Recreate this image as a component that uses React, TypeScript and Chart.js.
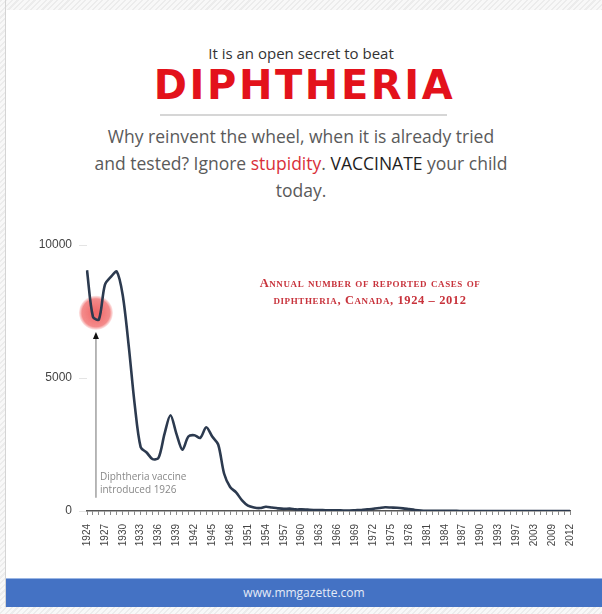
import React, { useEffect, useRef } from 'react';
import { Chart, registerables } from 'chart.js';

Chart.register(...registerables);

const years = [
  '1924', '1925', '1926', '1927', '1928', '1929', '1930', '1931', '1932', '1933',
  '1934', '1935', '1936', '1937', '1938', '1939', '1940', '1941', '1942', '1943',
  '1944', '1945', '1946', '1947', '1948', '1949', '1950', '1951', '1952', '1953',
  '1954', '1955', '1956', '1957', '1958', '1959', '1960', '1961', '1962', '1963',
  '1964', '1965', '1966', '1967', '1968', '1969', '1970', '1971', '1972', '1973',
  '1974', '1975', '1976', '1977', '1978', '1979', '1980', '1981', '1982', '1983',
  '1984', '1985', '1986', '1987', '1988', '1989', '1990', '1991', '1992', '1993',
  '1995', '1996', '1997', '1999', '2001', '2003', '2005', '2007', '2009', '2010',
  '2011', '2012',
];

const cases = [
  9050, 7300, 7200, 8500, 8800, 9000, 8100, 6200, 4000, 2400,
  2200, 1950, 2000, 2900, 3600, 2900, 2300, 2800, 2850, 2750,
  3150, 2800, 2500, 1400, 900, 700, 400, 200, 130, 110,
  160, 130, 100, 80, 90, 60, 60, 50, 40, 40,
  30, 30, 30, 20, 20, 30, 40, 60, 80, 110,
  140, 130, 120, 100, 70, 40, 20, 10, 5, 5,
  4, 3, 3, 2, 2, 2, 2, 1, 1, 1,
  1, 1, 1, 1, 1, 1, 1, 1, 1, 1,
  1, 1,
];

const yTickValues = [0, 5000, 10000];
const labelEvery = 3;

// annotation: vaccine introduced 1926 (between category indexes 1 and 2)
const vaccineMarkerIndex = 1.5;
const vaccineMarkerValue = 7450;
const vaccineArrowTipValue = 6650;
const vaccineLineBottomValue = 500;
const vaccineTextLines = ['Diphtheria vaccine', 'introduced 1926'];
const vaccineTextValues = [1280, 790];

const annotationPlugin = {
  id: 'vaccineAnnotation',
  beforeDatasetsDraw(chart: any) {
    const { ctx, scales } = chart;
    const x = scales.x.getPixelForValue(vaccineMarkerIndex);
    const y = scales.y.getPixelForValue(vaccineMarkerValue);
    ctx.save();
    const g = ctx.createRadialGradient(x, y, 2, x, y, 17);
    g.addColorStop(0, 'rgba(238,80,80,0.85)');
    g.addColorStop(0.8, 'rgba(240,100,100,0.75)');
    g.addColorStop(1, 'rgba(245,140,140,0.2)');
    ctx.fillStyle = g;
    ctx.beginPath();
    ctx.arc(x, y, 17, 0, Math.PI * 2);
    ctx.fill();
    ctx.restore();
  },
  afterDatasetsDraw(chart: any) {
    const { ctx, scales } = chart;
    const x = scales.x.getPixelForValue(vaccineMarkerIndex);
    const tip = scales.y.getPixelForValue(vaccineArrowTipValue);
    const bottom = scales.y.getPixelForValue(vaccineLineBottomValue);
    ctx.save();
    ctx.strokeStyle = '#a0a0a0';
    ctx.lineWidth = 1.5;
    ctx.beginPath();
    ctx.moveTo(x, tip + 4);
    ctx.lineTo(x, bottom);
    ctx.stroke();
    ctx.fillStyle = '#111';
    ctx.beginPath();
    ctx.moveTo(x, tip - 2);
    ctx.lineTo(x - 3, tip + 5);
    ctx.lineTo(x + 3, tip + 5);
    ctx.closePath();
    ctx.fill();
    ctx.fillStyle = '#888';
    ctx.font = '10px "Open Sans", sans-serif';
    ctx.textAlign = 'left';
    ctx.textBaseline = 'middle';
    vaccineTextLines.forEach((t, i) => {
      ctx.fillText(t, x + 4, scales.y.getPixelForValue(vaccineTextValues[i]));
    });
    ctx.restore();
  },
};

function DiphtheriaChart() {
  const ref = useRef<HTMLCanvasElement | null>(null);
  useEffect(() => {
    if (!ref.current) return;
    const chart = new Chart(ref.current, {
      type: 'line',
      data: {
        labels: years,
        datasets: [
          {
            data: cases,
            borderColor: '#2c3a4f',
            borderWidth: 2.6,
            pointRadius: 0,
            tension: 0.3,
            fill: false,
          },
        ],
      },
      options: {
        animation: false,
        responsive: false,
        events: [],
        layout: { padding: { top: 20, right: 32, bottom: 0, left: 0 } },
        plugins: { legend: { display: false }, tooltip: { enabled: false }, title: { display: false } },
        scales: {
          x: {
            type: 'category',
            offset: false,
            grid: { display: true, drawOnChartArea: false, drawTicks: true, tickLength: 4, color: '#8a8a8a', lineWidth: 1 },
            border: { display: true, color: '#555', width: 1.5 },
            ticks: {
              autoSkip: false,
              maxRotation: 90,
              minRotation: 90,
              padding: 9,
              color: '#444',
              font: { family: '"Liberation Sans", Arial, sans-serif', size: 10 },
              callback: (_v: any, i: number) => (i % labelEvery === 0 ? years[i] : ''),
            },
            afterFit: (s: any) => {
              s.height = 49;
            },
          },
          y: {
            min: 0,
            max: 10000,
            afterBuildTicks: (s: any) => {
              s.ticks = yTickValues.map((v) => ({ value: v }));
            },
            grid: { display: true, drawOnChartArea: false, drawTicks: true, tickLength: 8, color: '#e4e4e4' },
            border: { display: false },
            ticks: {
              padding: 7,
              color: '#444',
              font: { family: '"Liberation Sans", Arial, sans-serif', size: 12 },
              callback: (v: any) => String(v),
            },
            afterFit: (s: any) => {
              s.width = 87;
            },
          },
        },
      },
      plugins: [annotationPlugin],
    });
    return () => chart.destroy();
  }, []);
  return <canvas ref={ref} width={602} height={335} style={{ position: 'absolute', left: 0, top: 225, width: 602, height: 335 }} />;
}

const hatch = 'repeating-linear-gradient(135deg, #ececec 0px, #ececec 1.5px, #f8f8f8 1.5px, #f8f8f8 4px)';

export default function App() {
  return (
    <div style={{ position: 'fixed', left: 0, top: 0, width: 602, height: 614, background: '#fff', overflow: 'hidden', fontFamily: '"Open Sans", sans-serif' }}>
      <div style={{ position: 'absolute', left: 0, top: 0, width: 602, height: 10, background: hatch }} />
      <div style={{ position: 'absolute', left: 0, top: 0, width: 5, height: 614, background: hatch, borderRight: '1px solid #d4d4d4' }} />
      <div style={{ position: 'absolute', left: 0, top: 607, width: 602, height: 7, background: hatch }} />

      <div style={{ position: 'absolute', left: 0, top: 44, width: 602, textAlign: 'center', fontSize: 15, lineHeight: '18px', color: '#333' }}>
        It is an open secret to beat
      </div>
      <div style={{ position: 'absolute', left: 0, top: 65, width: 609, textAlign: 'center', fontFamily: '"DejaVu Sans", sans-serif', fontWeight: 'bold', fontSize: 40, lineHeight: '40px', letterSpacing: 2.6, color: '#e3121b' }}>
        DIPHTHERIA
      </div>
      <div style={{ position: 'absolute', left: 160, top: 114, width: 287, height: 2, background: '#d6d6d6' }} />
      <div style={{ position: 'absolute', left: 40, top: 123, width: 522, textAlign: 'center', fontSize: 17.5, lineHeight: '27px', color: '#5a5a5a' }}>
        Why reinvent the wheel, when it is already tried
        <br />
        and tested? Ignore <span style={{ color: '#d9303a' }}>stupidity</span>. <span style={{ color: '#1e1e1e' }}>VACCINATE</span> your child
        <br />
        today.
      </div>

      <DiphtheriaChart />

      <div style={{ position: 'absolute', left: 170, top: 275, width: 400, textAlign: 'center', fontFamily: '"Liberation Serif", serif', fontWeight: 'bold', fontVariant: 'small-caps', fontSize: 12.5, lineHeight: '17px', letterSpacing: 0.6, color: '#c8333c' }}>
        Annual number of reported cases of
        <br />
        diphtheria, Canada, 1924 – 2012
      </div>

      <div style={{ position: 'absolute', left: 6, top: 578, width: 596, height: 29, background: '#4472c4', borderTop: '1px solid #9ab6e4', boxSizing: 'border-box', textAlign: 'center', color: '#e4ebf7', fontSize: 12, lineHeight: '27px' }}>
        www.mmgazette.com
      </div>
    </div>
  );
}
